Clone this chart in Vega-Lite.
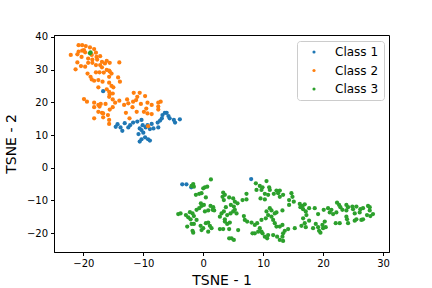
{
  "$schema": "https://vega.github.io/schema/vega-lite/v6.json",
  "autosize": "none",
  "width": 335,
  "height": 217,
  "padding": {"left": 54, "top": 35, "right": 43, "bottom": 36},
  "background": "white",
  "data": {"values": [
    {"x":-16.7,"y":23.4,"c":"Class 1"},{"x":-14.3,"y":13.3,"c":"Class 1"},{"x":-14.6,"y":12.5,"c":"Class 1"},{"x":-13.8,"y":12.3,"c":"Class 1"},{"x":-13.5,"y":11.3,"c":"Class 1"},{"x":-13.1,"y":13.6,"c":"Class 1"},{"x":-12.5,"y":12.3,"c":"Class 1"},{"x":-12.2,"y":13.0,"c":"Class 1"},{"x":-11.7,"y":13.8,"c":"Class 1"},{"x":-11.0,"y":14.1,"c":"Class 1"},{"x":-10.3,"y":14.6,"c":"Class 1"},{"x":-10.1,"y":13.0,"c":"Class 1"},{"x":-10.6,"y":12.0,"c":"Class 1"},{"x":-10.3,"y":11.5,"c":"Class 1"},{"x":-9.6,"y":12.3,"c":"Class 1"},{"x":-9.3,"y":13.0,"c":"Class 1"},{"x":-8.9,"y":11.8,"c":"Class 1"},{"x":-8.3,"y":12.0,"c":"Class 1"},{"x":-7.6,"y":13.8,"c":"Class 1"},{"x":-7.5,"y":12.3,"c":"Class 1"},{"x":-6.9,"y":15.1,"c":"Class 1"},{"x":-6.4,"y":16.8,"c":"Class 1"},{"x":-6.1,"y":16.8,"c":"Class 1"},{"x":-5.8,"y":15.8,"c":"Class 1"},{"x":-5.6,"y":15.1,"c":"Class 1"},{"x":-4.9,"y":14.6,"c":"Class 1"},{"x":-4.7,"y":13.8,"c":"Class 1"},{"x":-3.9,"y":14.8,"c":"Class 1"},{"x":-10.8,"y":10.3,"c":"Class 1"},{"x":-10.0,"y":10.7,"c":"Class 1"},{"x":-10.3,"y":8.7,"c":"Class 1"},{"x":-9.7,"y":9.3,"c":"Class 1"},{"x":-9.2,"y":8.7,"c":"Class 1"},{"x":-8.9,"y":8.3,"c":"Class 1"},{"x":-10.6,"y":8.0,"c":"Class 1"},{"x":-8.6,"y":13.4,"c":"Class 1"},{"x":-7.2,"y":14.4,"c":"Class 1"},{"x":-6.8,"y":16.1,"c":"Class 1"},{"x":-3.5,"y":-5.1,"c":"Class 1"},{"x":-2.8,"y":-5.1,"c":"Class 1"},{"x":-2.0,"y":-6.0,"c":"Class 1"},{"x":8.0,"y":-3.5,"c":"Class 1"},
    {"x":-20.8,"y":37.5,"c":"Class 2"},{"x":-20.2,"y":37.5,"c":"Class 2"},{"x":-19.6,"y":37.2,"c":"Class 2"},{"x":-18.9,"y":36.8,"c":"Class 2"},{"x":-22.1,"y":34.5,"c":"Class 2"},{"x":-21.0,"y":34.7,"c":"Class 2"},{"x":-20.8,"y":35.5,"c":"Class 2"},{"x":-20.2,"y":35.8,"c":"Class 2"},{"x":-19.9,"y":36.0,"c":"Class 2"},{"x":-19.7,"y":35.3,"c":"Class 2"},{"x":-18.2,"y":36.3,"c":"Class 2"},{"x":-17.9,"y":35.2,"c":"Class 2"},{"x":-18.6,"y":34.5,"c":"Class 2"},{"x":-17.8,"y":33.9,"c":"Class 2"},{"x":-17.2,"y":34.1,"c":"Class 2"},{"x":-20.3,"y":33.9,"c":"Class 2"},{"x":-19.2,"y":33.4,"c":"Class 2"},{"x":-18.5,"y":33.1,"c":"Class 2"},{"x":-17.7,"y":33.1,"c":"Class 2"},{"x":-16.9,"y":32.4,"c":"Class 2"},{"x":-16.1,"y":32.7,"c":"Class 2"},{"x":-15.6,"y":32.1,"c":"Class 2"},{"x":-14.0,"y":32.2,"c":"Class 2"},{"x":-21.0,"y":32.2,"c":"Class 2"},{"x":-21.3,"y":30.1,"c":"Class 2"},{"x":-20.4,"y":31.1,"c":"Class 2"},{"x":-19.7,"y":30.9,"c":"Class 2"},{"x":-19.2,"y":32.1,"c":"Class 2"},{"x":-18.5,"y":32.1,"c":"Class 2"},{"x":-17.9,"y":31.4,"c":"Class 2"},{"x":-17.2,"y":31.4,"c":"Class 2"},{"x":-16.4,"y":31.9,"c":"Class 2"},{"x":-16.9,"y":30.7,"c":"Class 2"},{"x":-16.1,"y":29.9,"c":"Class 2"},{"x":-15.6,"y":29.4,"c":"Class 2"},{"x":-19.3,"y":28.8,"c":"Class 2"},{"x":-18.8,"y":27.8,"c":"Class 2"},{"x":-17.9,"y":29.2,"c":"Class 2"},{"x":-17.3,"y":29.2,"c":"Class 2"},{"x":-16.6,"y":29.1,"c":"Class 2"},{"x":-15.7,"y":29.7,"c":"Class 2"},{"x":-15.3,"y":28.8,"c":"Class 2"},{"x":-18.6,"y":27.0,"c":"Class 2"},{"x":-18.2,"y":26.6,"c":"Class 2"},{"x":-17.5,"y":26.8,"c":"Class 2"},{"x":-16.8,"y":26.3,"c":"Class 2"},{"x":-15.7,"y":27.8,"c":"Class 2"},{"x":-14.2,"y":27.6,"c":"Class 2"},{"x":-13.9,"y":26.3,"c":"Class 2"},{"x":-17.5,"y":24.6,"c":"Class 2"},{"x":-15.7,"y":26.0,"c":"Class 2"},{"x":-15.3,"y":25.0,"c":"Class 2"},{"x":-16.1,"y":24.0,"c":"Class 2"},{"x":-15.7,"y":23.2,"c":"Class 2"},{"x":-15.0,"y":24.6,"c":"Class 2"},{"x":-15.6,"y":22.5,"c":"Class 2"},{"x":-15.1,"y":22.7,"c":"Class 2"},{"x":-15.7,"y":21.7,"c":"Class 2"},
    {"x":-19.9,"y":21.0,"c":"Class 2"},{"x":-19.4,"y":20.2,"c":"Class 2"},{"x":-18.2,"y":19.9,"c":"Class 2"},{"x":-17.5,"y":19.2,"c":"Class 2"},{"x":-17.1,"y":19.5,"c":"Class 2"},{"x":-16.3,"y":19.5,"c":"Class 2"},{"x":-15.1,"y":20.9,"c":"Class 2"},{"x":-14.7,"y":19.9,"c":"Class 2"},{"x":-14.0,"y":20.5,"c":"Class 2"},{"x":-15.1,"y":18.5,"c":"Class 2"},{"x":-15.6,"y":17.8,"c":"Class 2"},{"x":-18.2,"y":18.5,"c":"Class 2"},{"x":-17.3,"y":18.7,"c":"Class 2"},{"x":-16.9,"y":16.8,"c":"Class 2"},{"x":-17.5,"y":17.1,"c":"Class 2"},{"x":-16.7,"y":16.6,"c":"Class 2"},{"x":-18.2,"y":15.1,"c":"Class 2"},{"x":-16.7,"y":15.4,"c":"Class 2"},{"x":-15.9,"y":16.1,"c":"Class 2"},{"x":-15.7,"y":14.6,"c":"Class 2"},{"x":-15.7,"y":13.4,"c":"Class 2"},{"x":-12.7,"y":20.9,"c":"Class 2"},{"x":-12.5,"y":19.7,"c":"Class 2"},{"x":-13.2,"y":19.2,"c":"Class 2"},{"x":-12.9,"y":16.8,"c":"Class 2"},{"x":-12.3,"y":15.1,"c":"Class 2"},{"x":-11.6,"y":22.9,"c":"Class 2"},{"x":-10.6,"y":22.9,"c":"Class 2"},{"x":-11.0,"y":21.7,"c":"Class 2"},{"x":-11.2,"y":20.7,"c":"Class 2"},{"x":-11.7,"y":20.2,"c":"Class 2"},{"x":-11.8,"y":18.5,"c":"Class 2"},{"x":-11.1,"y":17.1,"c":"Class 2"},{"x":-10.4,"y":19.5,"c":"Class 2"},{"x":-9.7,"y":21.9,"c":"Class 2"},{"x":-9.3,"y":19.9,"c":"Class 2"},{"x":-8.6,"y":19.2,"c":"Class 2"},{"x":-9.5,"y":18.1,"c":"Class 2"},{"x":-9.9,"y":17.1,"c":"Class 2"},{"x":-9.3,"y":16.6,"c":"Class 2"},{"x":-8.6,"y":16.4,"c":"Class 2"},{"x":-7.5,"y":19.9,"c":"Class 2"},{"x":-7.1,"y":20.2,"c":"Class 2"},{"x":-7.5,"y":18.7,"c":"Class 2"},{"x":-7.5,"y":17.8,"c":"Class 2"},{"x":-9.2,"y":12.7,"c":"Class 2"},
    {"x":-18.8,"y":35.3,"c":"Class 3"},{"x":-18.9,"y":35.0,"c":"Class 3"},
    {"x":-1.67,"y":-5.0,"c":"Class 3"},{"x":-1.56,"y":-5.8,"c":"Class 3"},{"x":-1.94,"y":-5.6,"c":"Class 3"},{"x":1.28,"y":-3.6,"c":"Class 3"},{"x":0.0,"y":-6.3,"c":"Class 3"},{"x":0.28,"y":-6.0,"c":"Class 3"},{"x":0.67,"y":-5.8,"c":"Class 3"},{"x":-1.22,"y":-8.3,"c":"Class 3"},{"x":-0.67,"y":-8.0,"c":"Class 3"},{"x":-0.28,"y":-7.8,"c":"Class 3"},{"x":0.44,"y":-9.1,"c":"Class 3"},{"x":-0.39,"y":-10.9,"c":"Class 3"},{"x":-0.28,"y":-11.7,"c":"Class 3"},{"x":0.11,"y":-11.4,"c":"Class 3"},{"x":-0.67,"y":-12.4,"c":"Class 3"},{"x":-1.11,"y":-12.9,"c":"Class 3"},{"x":1.22,"y":-11.7,"c":"Class 3"},{"x":1.67,"y":-12.1,"c":"Class 3"},{"x":1.56,"y":-12.9,"c":"Class 3"},{"x":1.83,"y":-13.1,"c":"Class 3"},{"x":0.83,"y":-13.1,"c":"Class 3"},{"x":0.28,"y":-13.4,"c":"Class 3"},{"x":-4.17,"y":-14.2,"c":"Class 3"},{"x":-3.78,"y":-14.0,"c":"Class 3"},{"x":-2.89,"y":-14.5,"c":"Class 3"},{"x":-2.22,"y":-13.6,"c":"Class 3"},{"x":-1.78,"y":-14.0,"c":"Class 3"},{"x":-1.56,"y":-14.8,"c":"Class 3"},{"x":-2.5,"y":-15.2,"c":"Class 3"},{"x":-2.11,"y":-15.8,"c":"Class 3"},{"x":-1.11,"y":-16.0,"c":"Class 3"},{"x":-1.56,"y":-17.2,"c":"Class 3"},{"x":-2.67,"y":-18.0,"c":"Class 3"},{"x":-1.94,"y":-17.2,"c":"Class 3"},{"x":-1.78,"y":-19.3,"c":"Class 3"},{"x":-1.67,"y":-19.9,"c":"Class 3"},{"x":-0.44,"y":-17.8,"c":"Class 3"},{"x":-0.28,"y":-19.1,"c":"Class 3"},{"x":0.0,"y":-18.5,"c":"Class 3"},{"x":0.44,"y":-17.0,"c":"Class 3"},{"x":0.83,"y":-16.8,"c":"Class 3"},{"x":1.11,"y":-17.8,"c":"Class 3"},{"x":1.39,"y":-18.5,"c":"Class 3"},{"x":0.83,"y":-19.6,"c":"Class 3"},
    {"x":3.33,"y":-7.6,"c":"Class 3"},{"x":3.61,"y":-8.3,"c":"Class 3"},{"x":3.22,"y":-8.9,"c":"Class 3"},{"x":3.44,"y":-9.9,"c":"Class 3"},{"x":4.33,"y":-9.1,"c":"Class 3"},{"x":5.0,"y":-9.4,"c":"Class 3"},{"x":5.28,"y":-10.4,"c":"Class 3"},{"x":5.72,"y":-10.9,"c":"Class 3"},{"x":4.61,"y":-11.4,"c":"Class 3"},{"x":5.11,"y":-11.9,"c":"Class 3"},{"x":3.78,"y":-12.1,"c":"Class 3"},{"x":3.06,"y":-14.0,"c":"Class 3"},{"x":3.44,"y":-13.4,"c":"Class 3"},{"x":2.78,"y":-15.0,"c":"Class 3"},{"x":3.61,"y":-15.8,"c":"Class 3"},{"x":4.0,"y":-14.5,"c":"Class 3"},{"x":4.56,"y":-14.0,"c":"Class 3"},{"x":5.0,"y":-13.4,"c":"Class 3"},{"x":5.28,"y":-12.9,"c":"Class 3"},{"x":5.56,"y":-14.0,"c":"Class 3"},{"x":4.44,"y":-16.8,"c":"Class 3"},{"x":4.0,"y":-17.2,"c":"Class 3"},{"x":3.61,"y":-16.5,"c":"Class 3"},{"x":2.78,"y":-18.8,"c":"Class 3"},{"x":3.33,"y":-18.8,"c":"Class 3"},{"x":4.33,"y":-18.8,"c":"Class 3"},{"x":4.72,"y":-21.6,"c":"Class 3"},{"x":5.11,"y":-22.1,"c":"Class 3"},{"x":4.33,"y":-21.6,"c":"Class 3"},{"x":5.83,"y":-19.1,"c":"Class 3"},{"x":6.78,"y":-14.8,"c":"Class 3"},{"x":6.94,"y":-16.0,"c":"Class 3"},{"x":7.33,"y":-16.5,"c":"Class 3"},{"x":7.22,"y":-9.7,"c":"Class 3"},{"x":6.56,"y":-9.9,"c":"Class 3"},{"x":7.22,"y":-8.0,"c":"Class 3"},
    {"x":8.06,"y":-16.8,"c":"Class 3"},{"x":8.61,"y":-17.5,"c":"Class 3"},{"x":9.44,"y":-18.5,"c":"Class 3"},{"x":9.0,"y":-17.0,"c":"Class 3"},{"x":9.72,"y":-16.0,"c":"Class 3"},{"x":10.44,"y":-15.5,"c":"Class 3"},{"x":10.83,"y":-14.5,"c":"Class 3"},{"x":11.39,"y":-15.0,"c":"Class 3"},{"x":11.94,"y":-14.0,"c":"Class 3"},{"x":12.22,"y":-13.7,"c":"Class 3"},{"x":11.11,"y":-12.4,"c":"Class 3"},{"x":11.39,"y":-13.1,"c":"Class 3"},{"x":10.56,"y":-13.4,"c":"Class 3"},{"x":11.67,"y":-16.0,"c":"Class 3"},{"x":11.94,"y":-17.0,"c":"Class 3"},{"x":12.22,"y":-18.0,"c":"Class 3"},{"x":11.67,"y":-20.6,"c":"Class 3"},{"x":12.33,"y":-21.1,"c":"Class 3"},{"x":12.78,"y":-22.1,"c":"Class 3"},{"x":10.83,"y":-20.6,"c":"Class 3"},{"x":10.28,"y":-21.1,"c":"Class 3"},{"x":10.67,"y":-21.6,"c":"Class 3"},{"x":9.89,"y":-20.1,"c":"Class 3"},{"x":9.17,"y":-19.6,"c":"Class 3"},{"x":8.61,"y":-20.1,"c":"Class 3"},{"x":8.22,"y":-20.1,"c":"Class 3"},{"x":9.72,"y":-19.6,"c":"Class 3"},{"x":8.78,"y":-4.8,"c":"Class 3"},{"x":9.44,"y":-5.6,"c":"Class 3"},{"x":9.89,"y":-6.0,"c":"Class 3"},{"x":10.56,"y":-4.1,"c":"Class 3"},{"x":8.89,"y":-6.8,"c":"Class 3"},{"x":9.72,"y":-6.8,"c":"Class 3"},{"x":10.28,"y":-8.0,"c":"Class 3"},{"x":9.56,"y":-9.4,"c":"Class 3"},{"x":10.28,"y":-9.7,"c":"Class 3"},{"x":11.0,"y":-6.0,"c":"Class 3"},{"x":11.11,"y":-6.8,"c":"Class 3"},{"x":10.83,"y":-8.3,"c":"Class 3"},{"x":11.78,"y":-8.0,"c":"Class 3"},{"x":12.22,"y":-7.0,"c":"Class 3"},{"x":12.5,"y":-7.8,"c":"Class 3"},{"x":12.78,"y":-8.9,"c":"Class 3"},
    {"x":12.78,"y":-7.0,"c":"Class 3"},{"x":13.33,"y":-8.3,"c":"Class 3"},{"x":14.72,"y":-7.8,"c":"Class 3"},{"x":14.89,"y":-8.9,"c":"Class 3"},{"x":14.33,"y":-9.9,"c":"Class 3"},{"x":15.11,"y":-10.4,"c":"Class 3"},{"x":14.33,"y":-11.4,"c":"Class 3"},{"x":13.22,"y":-13.1,"c":"Class 3"},{"x":16.11,"y":-11.1,"c":"Class 3"},{"x":16.56,"y":-11.7,"c":"Class 3"},{"x":16.94,"y":-11.2,"c":"Class 3"},{"x":16.22,"y":-12.1,"c":"Class 3"},{"x":16.67,"y":-12.7,"c":"Class 3"},{"x":17.11,"y":-13.4,"c":"Class 3"},{"x":17.67,"y":-12.4,"c":"Class 3"},{"x":17.22,"y":-14.5,"c":"Class 3"},{"x":16.67,"y":-15.5,"c":"Class 3"},{"x":17.67,"y":-16.2,"c":"Class 3"},{"x":13.22,"y":-17.5,"c":"Class 3"},{"x":12.78,"y":-18.0,"c":"Class 3"},{"x":13.61,"y":-19.3,"c":"Class 3"},{"x":13.33,"y":-20.1,"c":"Class 3"},{"x":13.22,"y":-21.1,"c":"Class 3"},{"x":13.33,"y":-22.4,"c":"Class 3"},{"x":14.17,"y":-18.8,"c":"Class 3"},{"x":15.28,"y":-18.5,"c":"Class 3"},{"x":16.39,"y":-17.8,"c":"Class 3"},{"x":16.94,"y":-17.0,"c":"Class 3"},{"x":17.11,"y":-18.2,"c":"Class 3"},{"x":18.61,"y":-12.4,"c":"Class 3"},{"x":19.17,"y":-14.2,"c":"Class 3"},{"x":20.11,"y":-12.9,"c":"Class 3"},{"x":20.83,"y":-12.4,"c":"Class 3"},{"x":21.39,"y":-12.9,"c":"Class 3"},{"x":21.67,"y":-14.2,"c":"Class 3"},{"x":21.11,"y":-13.7,"c":"Class 3"},{"x":22.22,"y":-13.7,"c":"Class 3"},{"x":22.33,"y":-10.7,"c":"Class 3"},{"x":22.67,"y":-11.4,"c":"Class 3"},{"x":22.89,"y":-12.1,"c":"Class 3"},{"x":23.22,"y":-12.9,"c":"Class 3"},{"x":23.89,"y":-11.4,"c":"Class 3"},{"x":24.17,"y":-12.1,"c":"Class 3"},{"x":23.89,"y":-13.1,"c":"Class 3"},{"x":24.89,"y":-11.9,"c":"Class 3"},{"x":25.0,"y":-12.7,"c":"Class 3"},{"x":25.56,"y":-11.9,"c":"Class 3"},{"x":26.22,"y":-12.7,"c":"Class 3"},{"x":26.67,"y":-12.4,"c":"Class 3"},{"x":26.11,"y":-13.7,"c":"Class 3"},{"x":25.28,"y":-14.0,"c":"Class 3"},{"x":27.5,"y":-11.7,"c":"Class 3"},{"x":27.78,"y":-12.1,"c":"Class 3"},{"x":27.78,"y":-13.1,"c":"Class 3"},{"x":27.33,"y":-14.5,"c":"Class 3"},{"x":27.89,"y":-14.8,"c":"Class 3"},{"x":28.33,"y":-14.2,"c":"Class 3"},{"x":23.89,"y":-15.0,"c":"Class 3"},{"x":24.0,"y":-15.8,"c":"Class 3"},{"x":24.17,"y":-17.0,"c":"Class 3"},{"x":25.28,"y":-16.2,"c":"Class 3"},{"x":25.56,"y":-15.8,"c":"Class 3"},{"x":26.39,"y":-16.0,"c":"Class 3"},{"x":26.67,"y":-15.8,"c":"Class 3"},{"x":22.78,"y":-17.0,"c":"Class 3"},{"x":22.11,"y":-17.0,"c":"Class 3"},{"x":18.78,"y":-17.2,"c":"Class 3"},{"x":19.17,"y":-18.2,"c":"Class 3"},{"x":19.33,"y":-19.3,"c":"Class 3"},{"x":19.56,"y":-19.9,"c":"Class 3"},{"x":20.0,"y":-18.5,"c":"Class 3"},{"x":19.89,"y":-17.5,"c":"Class 3"},{"x":20.28,"y":-16.5,"c":"Class 3"},{"x":20.44,"y":-18.2,"c":"Class 3"},{"x":18.33,"y":-18.5,"c":"Class 3"}
  ]},
  "mark": {"type": "point", "filled": true, "opacity": 1, "size": 18, "shape": "circle", "strokeWidth": 0},
  "encoding": {
    "x": {"field": "x", "type": "quantitative", "title": "TSNE - 1",
      "scale": {"domain": [-24.9, 31], "nice": false, "zero": false},
      "axis": {"values": [-20, -10, 0, 10, 20, 30]}},
    "y": {"field": "y", "type": "quantitative", "title": "TSNE - 2",
      "scale": {"domain": [-25.8, 40.6], "nice": false, "zero": false},
      "axis": {"values": [-20, -10, 0, 10, 20, 30, 40]}},
    "color": {"field": "c", "type": "nominal",
      "scale": {"domain": ["Class 1", "Class 2", "Class 3"], "range": ["#1f77b4", "#ff7f0e", "#2ca02c"]},
      "legend": {"title": null, "orient": "none", "legendX": 243, "legendY": 6}}
  },
  "config": {
    "font": "DejaVu Sans",
    "view": {"stroke": "black", "strokeWidth": 1},
    "axis": {"grid": false, "domainColor": "black", "tickColor": "black", "tickSize": 3.5, "labelColor": "black", "labelFontSize": 10, "labelPadding": 3, "titleColor": "black", "titleFontSize": 14, "titleFontWeight": "normal", "labelFont": "DejaVu Sans", "titleFont": "DejaVu Sans"},
    "axisX": {"titlePadding": 5},
    "axisY": {"titlePadding": 8},
    "legend": {"strokeColor": "#cccccc", "fillColor": "rgba(255,255,255,0.8)", "cornerRadius": 3, "padding": 5, "symbolOffset": 6, "labelOffset": 15, "labelFontSize": 12, "labelFont": "DejaVu Sans", "labelColor": "black", "rowPadding": 6.5, "symbolSize": 10, "symbolType": "circle", "symbolStrokeWidth": 0}
  }
}
